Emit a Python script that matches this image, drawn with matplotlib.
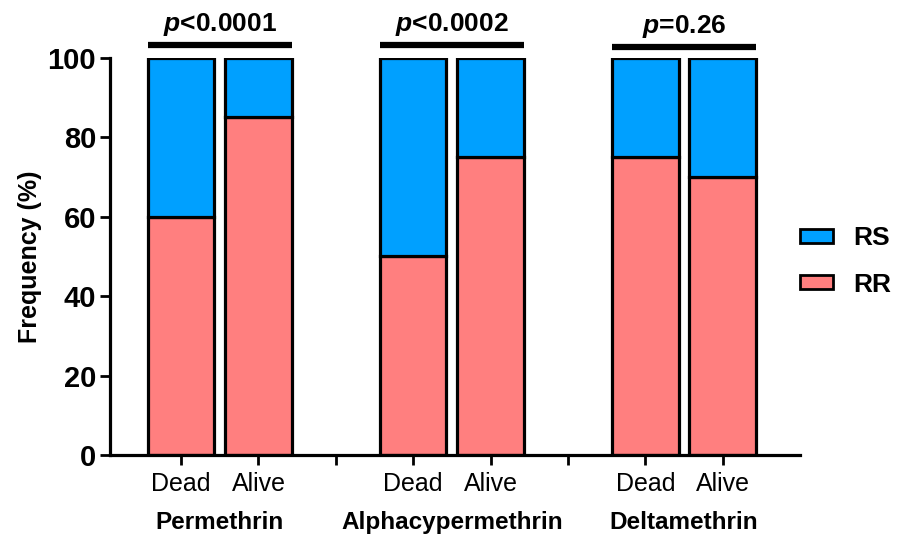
import matplotlib
matplotlib.use("Agg")
import matplotlib.pyplot as plt
from matplotlib.patches import Patch

plt.rcParams.update({
    "font.family": ["Liberation Sans", "DejaVu Sans"],
    "mathtext.fontset": "custom",
    "mathtext.it": "Liberation Sans:italic:bold",
    "mathtext.rm": "Liberation Sans:bold",
})

GROUPS = ["Permethrin", "Alphacypermethrin", "Deltamethrin"]
STATUS = ["Dead", "Alive"]
RR = [60, 85, 50, 75, 75, 70]
RS = [40, 15, 50, 25, 25, 30]
P_LABELS = ["$p$<0.0001", "$p$<0.0002", "$p$=0.26"]

BLUE = "#00A0FF"
RED = "#FF7F7F"

fig = plt.figure(figsize=(9.01, 5.36), dpi=100)
ax = fig.add_axes([0.122, 0.151, 0.766, 0.741])

# x positions: two bars per group, one empty slot between groups
pos = []
for g in range(len(GROUPS)):
    pos += [g * 3, g * 3 + 1]

w = 0.86
ax.bar(pos, RR, width=w, color=RED, edgecolor="black", linewidth=2.3, zorder=2)
ax.bar(pos, RS, width=w, bottom=RR, color=BLUE, edgecolor="black", linewidth=2.3, zorder=2)

ax.set_xlim(-0.92, 8.0)
ax.set_ylim(0, 100)
ax.set_yticks([0, 20, 40, 60, 80, 100])
ax.tick_params(axis="y", labelsize=21, width=2, length=7, direction="out", pad=3)
for t in ax.get_yticklabels():
    t.set_fontweight("bold")

xt = list(range(8))
xl = []
for i in xt:
    xl.append(STATUS[i % 3] if i % 3 < 2 else "")
ax.set_xticks(xt)
ax.set_xticklabels(xl, fontsize=18)
ax.tick_params(axis="x", width=2, length=7, direction="out", pad=5)

for s in ["top", "right"]:
    ax.spines[s].set_visible(False)
for s in ["left", "bottom"]:
    ax.spines[s].set_linewidth(2.3)

ax.set_ylabel("Frequency (%)", fontsize=18, fontweight="bold", labelpad=4)

for g, name in enumerate(GROUPS):
    c = g * 3 + 0.5
    ax.text(c, -0.17, name, transform=ax.get_xaxis_transform(), ha="center", va="center",
            fontsize=17.5, fontweight="bold")
    ybar = 103.3 if g < 2 else 102.8
    ax.plot([c - 0.5 - w / 2, c + 0.5 + w / 2], [ybar, ybar], color="black", linewidth=4.5,
            clip_on=False, solid_capstyle="butt")
    ax.text(c, ybar + 1.8, P_LABELS[g], ha="center", va="bottom", fontsize=19,
            fontweight="bold", clip_on=False)

handles = [Patch(facecolor=BLUE, edgecolor="black", linewidth=2, label="RS"),
           Patch(facecolor=RED, edgecolor="black", linewidth=2, label="RR")]
leg = fig.legend(handles=handles, loc="center left", bbox_to_anchor=(0.888, 0.512),
                 frameon=False, prop={"size": 19, "weight": "bold"},
                 borderpad=0, borderaxespad=0,
                 handlelength=1.25, handleheight=0.45, labelspacing=0.85, handletextpad=0.75)

fig.savefig("out.png", dpi=100)
